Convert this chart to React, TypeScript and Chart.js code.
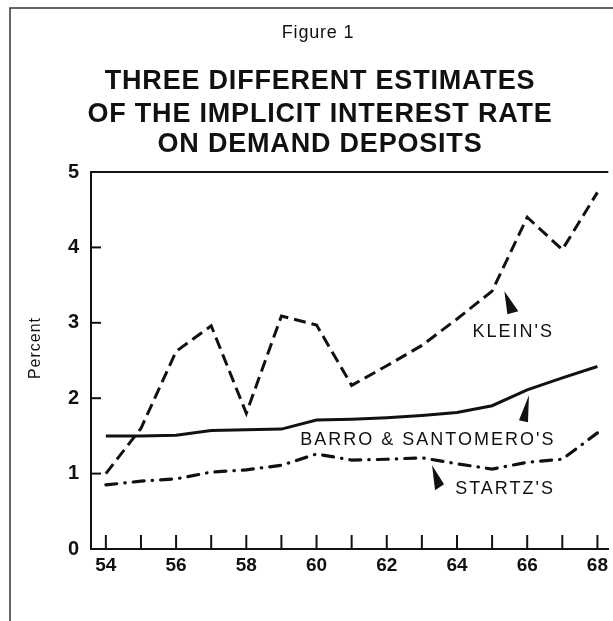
import React, { useEffect, useRef } from "react";
import { Chart, registerables } from "chart.js";

Chart.register(...registerables);

// ---- data ----
const years = [54, 55, 56, 57, 58, 59, 60, 61, 62, 63, 64, 65, 66, 67, 68];
const kleinValues = [1.0, 1.6, 2.62, 2.96, 1.8, 3.09, 2.97, 2.17, 2.43, 2.7, 3.05, 3.42, 4.4, 3.97, 4.73];
const barroValues = [1.5, 1.5, 1.51, 1.57, 1.58, 1.59, 1.71, 1.72, 1.74, 1.77, 1.81, 1.9, 2.11, 2.27, 2.42];
const startzValues = [0.85, 0.9, 0.93, 1.02, 1.05, 1.11, 1.26, 1.18, 1.19, 1.21, 1.13, 1.06, 1.15, 1.19, 1.54];
const xLabelYears = [54, 56, 58, 60, 62, 64, 66, 68];
const yTickValues = [0, 1, 2, 3, 4, 5];
const seriesNames = ["KLEIN'S", "BARRO & SANTOMERO'S", "STARTZ'S"];
const figureLabel = "Figure 1";
const titleLines = ["THREE DIFFERENT ESTIMATES", "OF THE IMPLICIT INTEREST RATE", "ON DEMAND DEPOSITS"];
const yAxisTitle = "Percent";
// annotation anchors in data units (year, percent)
const labelYears = [65.6, 63.17, 65.37];
const labelValues = [2.88, 1.445, 0.8];
const arrowTipYears = [65.35, 66.05, 63.29];
const arrowTipValues = [3.42, 2.04, 1.11];

const FONT = '"Liberation Sans", Arial, Helvetica, sans-serif';
const INK = "#111111";

const arrowShapes = [
  [[3, 23], [14, 20]],
  [[-10, 25], [-1, 27]],
  [[3, 25], [12, 19]],
];

const decorPlugin = {
  id: "decor",
  beforeDraw(chart: any) {
    const ctx = chart.ctx;
    ctx.save();
    ctx.fillStyle = "#ffffff";
    ctx.fillRect(0, 0, chart.width, chart.height);
    // page frame
    ctx.strokeStyle = "#333";
    ctx.lineWidth = 1.5;
    ctx.beginPath();
    ctx.moveTo(10, chart.height);
    ctx.lineTo(10, 8);
    ctx.lineTo(chart.width, 8);
    ctx.stroke();
    // titles
    ctx.fillStyle = INK;
    ctx.textAlign = "center";
    ctx.textBaseline = "middle";
    ctx.font = `18px ${FONT}`;
    (ctx as any).letterSpacing = "0.8px";
    ctx.fillText(figureLabel, 318, 33);
    ctx.font = `bold 27px ${FONT}`;
    (ctx as any).letterSpacing = "0.8px";
    const ys = [82, 115, 145];
    titleLines.forEach((t, i) => ctx.fillText(t, 320, ys[i]));
    (ctx as any).letterSpacing = "1px";
    ctx.font = `16px ${FONT}`;
    ctx.translate(36, 348);
    ctx.rotate(-Math.PI / 2);
    ctx.fillText(yAxisTitle, 0, 0);
    ctx.restore();
  },
  afterDatasetsDraw(chart: any) {
    const ctx = chart.ctx;
    const xs = chart.scales.x;
    const ysc = chart.scales.y;
    const area = chart.chartArea;
    ctx.save();
    ctx.strokeStyle = INK;
    ctx.lineWidth = 2;
    // top border (5 percent line)
    ctx.beginPath();
    ctx.moveTo(area.left, ysc.getPixelForValue(5));
    ctx.lineTo(area.right, ysc.getPixelForValue(5));
    ctx.stroke();
    // inner ticks
    ctx.lineWidth = 2;
    years.forEach((yr) => {
      const px = xs.getPixelForValue(yr);
      ctx.beginPath();
      ctx.moveTo(px, area.bottom);
      ctx.lineTo(px, area.bottom - 14);
      ctx.stroke();
    });
    yTickValues.forEach((v) => {
      if (v === 0 || v === 5) return;
      const py = ysc.getPixelForValue(v);
      ctx.beginPath();
      ctx.moveTo(area.left, py);
      ctx.lineTo(area.left + 10, py);
      ctx.stroke();
    });
    // annotations
    ctx.fillStyle = INK;
    ctx.font = `18px ${FONT}`;
    (ctx as any).letterSpacing = "2px";
    ctx.textAlign = "center";
    ctx.textBaseline = "middle";
    seriesNames.forEach((name, i) => {
      ctx.fillText(name, xs.getPixelForValue(labelYears[i]), ysc.getPixelForValue(labelValues[i]));
      const tx = xs.getPixelForValue(arrowTipYears[i]);
      const ty = ysc.getPixelForValue(arrowTipValues[i]);
      const [a, b] = arrowShapes[i];
      ctx.beginPath();
      ctx.moveTo(tx, ty);
      ctx.lineTo(tx + a[0], ty + a[1]);
      ctx.lineTo(tx + b[0], ty + b[1]);
      ctx.closePath();
      ctx.fill();
    });
    ctx.restore();
  },
};

export default function App() {
  const ref = useRef<HTMLCanvasElement>(null);
  useEffect(() => {
    if (!ref.current) return;
    const toPts = (vals: number[]) => years.map((y, i) => ({ x: y, y: vals[i] }));
    const chart = new Chart(ref.current, {
      type: "line",
      data: {
        datasets: [
          {
            label: seriesNames[0],
            data: toPts(kleinValues),
            borderColor: INK,
            borderWidth: 3,
            borderDash: [12, 6],
            pointRadius: 0,
            tension: 0,
            fill: false,
          },
          {
            label: seriesNames[1],
            data: toPts(barroValues),
            borderColor: INK,
            borderWidth: 3,
            pointRadius: 0,
            tension: 0,
            fill: false,
          },
          {
            label: seriesNames[2],
            data: toPts(startzValues),
            borderColor: INK,
            borderWidth: 3.2,
            borderDash: [11, 8, 0.5, 8],
            borderCapStyle: "round",
            pointRadius: 0,
            tension: 0,
            fill: false,
          },
        ],
      },
      options: {
        animation: false,
        responsive: false,
        devicePixelRatio: 1,
        layout: { padding: { top: 172, left: 0, right: 0, bottom: 0 } },
        plugins: {
          legend: { display: false },
          title: { display: false },
          tooltip: { enabled: false },
        },
        scales: {
          x: {
            type: "linear",
            min: 53.577,
            max: 68.31,
            afterBuildTicks: (s: any) => {
              s.ticks = xLabelYears.map((v) => ({ value: v }));
            },
            afterFit: (s: any) => {
              s.height = 72;
            },
            ticks: {
              autoSkip: false,
              maxRotation: 0,
              padding: 5,
              color: INK,
              font: { family: FONT, size: 19, weight: "bold" },
              callback: (v: any) => String(v),
            },
            grid: { drawOnChartArea: false, drawTicks: false },
            border: { display: true, color: INK, width: 2 },
          },
          y: {
            type: "linear",
            min: 0,
            max: 5,
            afterBuildTicks: (s: any) => {
              s.ticks = yTickValues.map((v) => ({ value: v }));
            },
            afterFit: (s: any) => {
              s.width = 91;
            },
            ticks: {
              padding: 12,
              color: INK,
              font: { family: FONT, size: 20, weight: "bold" },
              callback: (v: any) => String(v),
            },
            grid: { drawOnChartArea: false, drawTicks: false },
            border: { display: true, color: INK, width: 2 },
          },
        },
      },
      plugins: [decorPlugin],
    } as any);
    return () => chart.destroy();
  }, []);
  return (
    <div style={{ position: "absolute", left: 0, top: 0, width: 613, height: 621 }}>
      <canvas ref={ref} width={613} height={621} style={{ display: "block" }} />
    </div>
  );
}
